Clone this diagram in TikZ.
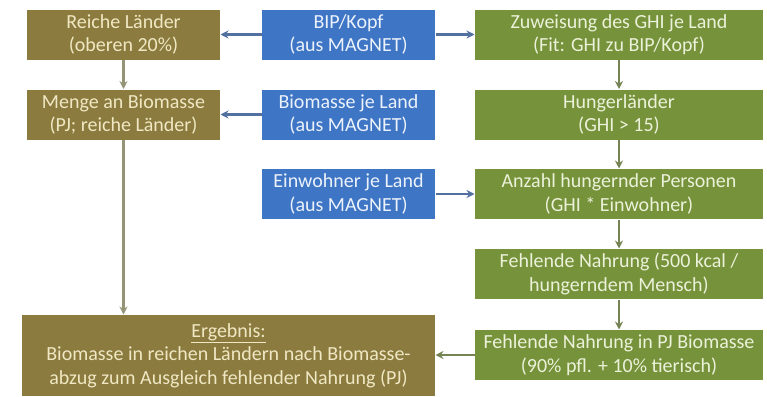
\documentclass[tikz,border=0pt]{standalone}
\usepackage{fontspec}
\setmainfont{Carlito}
\usetikzlibrary{arrows.meta}

\definecolor{olivebox}{RGB}{139,123,62}
\definecolor{greenbox}{RGB}{118,146,58}
\definecolor{bluebox}{RGB}{62,117,196}
\definecolor{olivetext}{RGB}{240,232,196}
\definecolor{greentext}{RGB}{236,242,218}
\definecolor{bluetext}{RGB}{236,242,252}
\definecolor{olivearrow}{RGB}{150,148,118}
\definecolor{greenarrow}{RGB}{118,132,84}
\definecolor{bluearrow}{RGB}{82,112,160}

\tikzset{every picture/.style={line width=0.75pt}}
\tikzset{
  box/.style={inner sep=2pt, align=center, font=\fontsize{15}{17.5}\selectfont},
  richbox/.style={box, fill=olivebox, text=olivetext, minimum width=144.75pt, minimum height=37.5pt},
  databox/.style={box, fill=bluebox, text=bluetext, minimum width=129.75pt, minimum height=37.5pt},
  hungerbox/.style={box, fill=greenbox, text=greentext, minimum width=216pt, minimum height=37.5pt},
  flow/.style={-{Stealth[length=6pt,width=6pt]}, line width=1.6pt},
}

\begin{document}
\begin{tikzpicture}[x=0.75pt,y=0.75pt,yscale=-1,xscale=1]
\useasboundingbox (0,0) rectangle (767,396);

% olive column: rich countries
\node [richbox] (rich) at (123.5,34.5) {Reiche Länder\\(oberen 20\%)};
\node [richbox] (menge) at (123.5,114.5) {Menge an Biomasse\\(PJ; reiche Länder)};

% blue inputs
\node [databox] (bip) at (348.5,34.5) {BIP/Kopf\\(aus MAGNET)};
\node [databox] (biojl) at (348.5,114.5) {Biomasse je Land\\(aus MAGNET)};
\node [databox] (einw) at (348.5,194) {Einwohner je Land\\(aus MAGNET)};

% green column: hunger countries
\node [hungerbox] (zuw) at (619,34.5) {Zuweisung des GHI je Land\\(Fit: GHI zu BIP/Kopf)};
\node [hungerbox] (hunger) at (619,114.5) {Hungerländer\\(GHI > 15)};
\node [hungerbox] (anzahl) at (619,194) {Anzahl hungernder Personen\\(GHI * Einwohner)};
\node [hungerbox] (fehl) at (619,274) {Fehlende Nahrung (500 kcal /\\hungerndem Mensch)};
\node [hungerbox] (fehlpj) at (619,355) {Fehlende Nahrung in PJ Biomasse\\(90\% pfl. + 10\% tierisch)};

% result
\node [richbox, minimum width=309.75pt, minimum height=60.75pt] (erg) at (228.5,355.5)
  {\underline{Ergebnis:}\\Biomasse in reichen Ländern nach Biomasse-\\abzug zum Ausgleich fehlender Nahrung (PJ)};

% arrows
\draw [flow, bluearrow] (bip) -- (rich);
\draw [flow, bluearrow] (bip) -- (zuw);
\draw [flow, bluearrow] (biojl) -- (menge);
\draw [flow, bluearrow] (einw) -- (anzahl);

\draw [flow, olivearrow] (rich) -- (menge);
\draw [flow, olivearrow] (menge.south) -- (menge.south |- erg.north);

\draw [flow, greenarrow] (zuw) -- (hunger);
\draw [flow, greenarrow] (hunger) -- (anzahl);
\draw [flow, greenarrow] (anzahl) -- (fehl);
\draw [flow, greenarrow] (fehl) -- (fehlpj);
\draw [flow, greenarrow] (fehlpj) -- (fehlpj -| erg.east);
\end{tikzpicture}
\end{document}
